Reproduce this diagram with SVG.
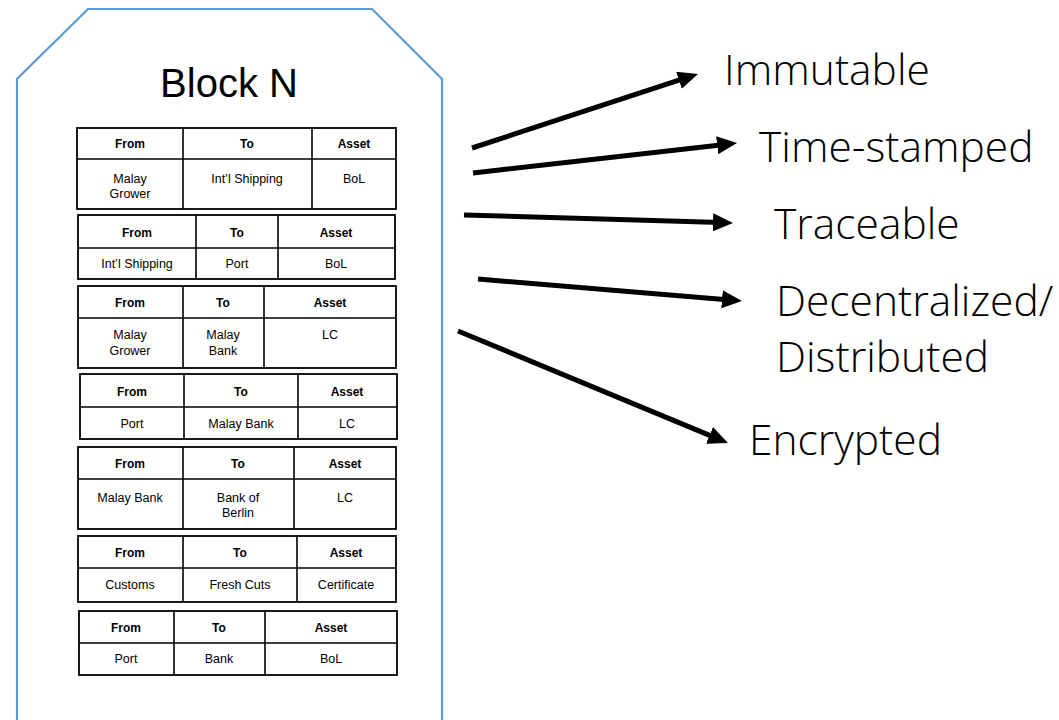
<svg xmlns="http://www.w3.org/2000/svg" width="1059" height="720" viewBox="0 0 1059 720">
<style>
.blk{fill:#fff;stroke:#5b9bd5;stroke-width:2.2}
.tb{fill:#fff;stroke:#000;stroke-width:1.8}
.ln{stroke:#000;stroke-width:1.6}
.h{font-family:"Liberation Sans",Arial,sans-serif;font-size:12px;font-weight:bold;text-anchor:middle;fill:#000}
.c{font-family:"Liberation Sans",Arial,sans-serif;font-size:12.5px;text-anchor:middle;fill:#000}
.title{font-family:"Liberation Sans",Arial,sans-serif;font-size:40px;text-anchor:middle;fill:#000}
.lab{font-family:"Open Sans","Liberation Sans",sans-serif;font-size:42.5px;font-weight:300;fill:#000}
.arr{stroke:#000;stroke-width:5;fill:none;marker-end:url(#ah)}
</style>
<defs>
<marker id="ah" markerUnits="userSpaceOnUse" markerWidth="20" markerHeight="18" refX="8" refY="9" orient="auto">
<path d="M0,0 L20,9 L0,18 z" fill="#000"/>
</marker>
</defs>
<rect width="1059" height="720" fill="#fff"/>
<g id="block">
<path class="blk" d="M17,730 L17,79 L88,9 L372,9 L442,79 L442,730"/>
<text class="title" x="229" y="97">Block N</text>
</g>
<g id="t1">
<rect class="tb" x="77" y="128" width="319" height="81"/>
<line class="ln" x1="77" y1="159" x2="396" y2="159"/>
<line class="ln" x1="183" y1="128" x2="183" y2="209"/>
<line class="ln" x1="312" y1="128" x2="312" y2="209"/>
<text class="h" x="130" y="148">From</text><text class="h" x="247" y="148">To</text><text class="h" x="354" y="148">Asset</text>
<text class="c" x="130" y="183">Malay</text><text class="c" x="130" y="198">Grower</text>
<text class="c" x="247" y="183">Int’l Shipping</text><text class="c" x="354" y="183">BoL</text>
</g>
<g id="t2">
<rect class="tb" x="78" y="215" width="317" height="64"/>
<line class="ln" x1="78" y1="248" x2="395" y2="248"/>
<line class="ln" x1="196" y1="215" x2="196" y2="279"/>
<line class="ln" x1="278" y1="215" x2="278" y2="279"/>
<text class="h" x="137" y="237">From</text><text class="h" x="237" y="237">To</text><text class="h" x="336" y="237">Asset</text>
<text class="c" x="137" y="268">Int’l Shipping</text><text class="c" x="237" y="268">Port</text><text class="c" x="336" y="268">BoL</text>
</g>
<g id="t3">
<rect class="tb" x="78" y="286" width="318" height="82"/>
<line class="ln" x1="78" y1="318" x2="396" y2="318"/>
<line class="ln" x1="183" y1="286" x2="183" y2="368"/>
<line class="ln" x1="264" y1="286" x2="264" y2="368"/>
<text class="h" x="130" y="307">From</text><text class="h" x="223" y="307">To</text><text class="h" x="330" y="307">Asset</text>
<text class="c" x="130" y="339">Malay</text><text class="c" x="130" y="355">Grower</text>
<text class="c" x="223" y="339">Malay</text><text class="c" x="223" y="355">Bank</text>
<text class="c" x="330" y="339">LC</text>
</g>
<g id="t4">
<rect class="tb" x="80" y="374" width="317" height="65"/>
<line class="ln" x1="80" y1="407" x2="397" y2="407"/>
<line class="ln" x1="184" y1="374" x2="184" y2="439"/>
<line class="ln" x1="298" y1="374" x2="298" y2="439"/>
<text class="h" x="132" y="396">From</text><text class="h" x="241" y="396">To</text><text class="h" x="347" y="396">Asset</text>
<text class="c" x="132" y="428">Port</text><text class="c" x="241" y="428">Malay Bank</text><text class="c" x="347" y="428">LC</text>
</g>
<g id="t5">
<rect class="tb" x="78" y="447" width="318" height="82"/>
<line class="ln" x1="78" y1="479" x2="396" y2="479"/>
<line class="ln" x1="183" y1="447" x2="183" y2="529"/>
<line class="ln" x1="294" y1="447" x2="294" y2="529"/>
<text class="h" x="130" y="468">From</text><text class="h" x="238" y="468">To</text><text class="h" x="345" y="468">Asset</text>
<text class="c" x="130" y="502">Malay Bank</text>
<text class="c" x="238" y="502">Bank of</text><text class="c" x="238" y="517">Berlin</text>
<text class="c" x="345" y="502">LC</text>
</g>
<g id="t6">
<rect class="tb" x="78" y="536" width="318" height="66"/>
<line class="ln" x1="78" y1="568" x2="396" y2="568"/>
<line class="ln" x1="183" y1="536" x2="183" y2="602"/>
<line class="ln" x1="297" y1="536" x2="297" y2="602"/>
<text class="h" x="130" y="557">From</text><text class="h" x="240" y="557">To</text><text class="h" x="346" y="557">Asset</text>
<text class="c" x="130" y="589">Customs</text><text class="c" x="240" y="589">Fresh Cuts</text><text class="c" x="346" y="589">Certificate</text>
</g>
<g id="t7">
<rect class="tb" x="79" y="611" width="318" height="64"/>
<line class="ln" x1="79" y1="643" x2="397" y2="643"/>
<line class="ln" x1="174" y1="611" x2="174" y2="675"/>
<line class="ln" x1="265" y1="611" x2="265" y2="675"/>
<text class="h" x="126" y="632">From</text><text class="h" x="219" y="632">To</text><text class="h" x="331" y="632">Asset</text>
<text class="c" x="126" y="663">Port</text><text class="c" x="219" y="663">Bank</text><text class="c" x="331" y="663">BoL</text>
</g>
<g id="connectors">
<line class="arr" x1="472" y1="148" x2="686.6" y2="77.7"/>
<line class="arr" x1="473" y1="173" x2="725.1" y2="144.4"/>
<line class="arr" x1="464" y1="215" x2="721.0" y2="222.6"/>
<line class="arr" x1="478" y1="279" x2="730.0" y2="300.0"/>
<line class="arr" x1="458" y1="331" x2="716.9" y2="438.4"/>
</g>
<g id="labels">
<text class="lab" x="724" y="85">Immutable</text>
<text class="lab" x="759" y="162">Time-stamped</text>
<text class="lab" x="774" y="239">Traceable</text>
<text class="lab" x="776" y="316">Decentralized/</text>
<text class="lab" x="776" y="372">Distributed</text>
<text class="lab" x="749" y="455">Encrypted</text>
</g>
</svg>
